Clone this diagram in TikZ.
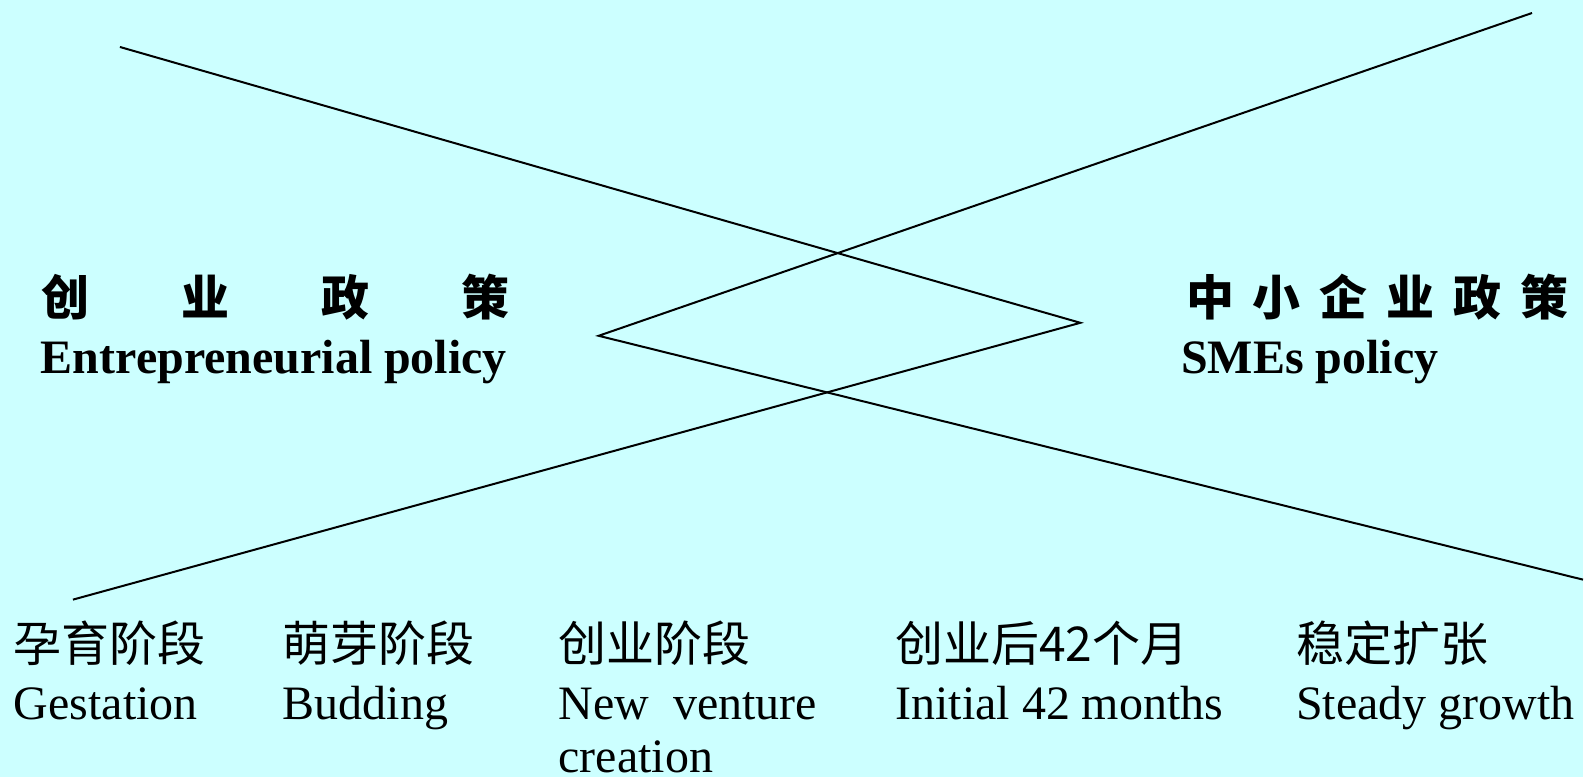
\documentclass[tikz,border=0pt]{standalone}
\usepackage{fontspec}
\setmainfont{Liberation Serif}
\newfontfamily\cjk{Noto Sans CJK SC}
\usepackage{xcolor}
\definecolor{slidebg}{HTML}{CCFFFF}
\usetikzlibrary{positioning}

\begin{document}
\begin{tikzpicture}[x=0.5pt, y=-0.5pt,
    every node/.style={inner sep=0pt, outer sep=0pt},
    policycn/.style={anchor=base west, font=\fontsize{24}{28}\selectfont\cjk\bfseries},
    policyen/.style={anchor=base west, font=\fontsize{24}{28}\selectfont\bfseries},
    stagecn/.style={anchor=base west, font=\fontsize{24}{28}\selectfont\cjk},
    stageen/.style={below=29pt of #1.base west, anchor=base west, align=left,
                    font=\fontsize{24}{26.5}\selectfont},
    wedge/.style={line width=1pt, line join=miter}]
        \fill[slidebg] (0,0) rectangle (1584,777);

        % policy headings
        \node[policycn] (ecn) at (42,316) {\makebox[234pt]{创\hfill 业\hfill 政\hfill 策}};
        \node[policyen] (een) at (41,374) {Entrepreneurial policy};
        \node[policycn] (scn) at (1187,316) {\makebox[191pt]{中\hfill 小\hfill 企\hfill 业\hfill 政\hfill 策}};
        \node[policyen] (sen) at (1182,374) {SMEs policy};

        % stages
        \node[stagecn] (gest)   at (14,662)   {孕育阶段};
        \node[stagecn] (bud)    at (283,662)  {萌芽阶段};
        \node[stagecn] (nvc)    at (559,662)  {创业阶段};
        \node[stagecn] (init)   at (896,662)  {创业后42个月};
        \node[stagecn] (steady) at (1297,662) {稳定扩张};
        \node[stageen=gest]   (gesten)   {Gestation};
        \node[stageen=bud]    (buden)    {Budding};
        \node[stageen=nvc, yshift=-26.5pt] (nvcen) {New\ \ venture\\creation};
        \node[stageen=init]   (initen)   {Initial 42 months};
        \node[stageen=steady] (steadyen) {Steady growth};

        % the two wedges
        \coordinate (a1) at (120,47);
        \coordinate (a2) at (1081,323);
        \coordinate (a3) at (73,600);
        \coordinate (b1) at (1533,13);
        \coordinate (b2) at (599,336);
        \coordinate (b3) at (1584,580);
        \draw[wedge] (a1) -- (a2) -- (a3);
        \draw[wedge] (b1) -- (b2) -- (b3);
\end{tikzpicture}
\end{document}
